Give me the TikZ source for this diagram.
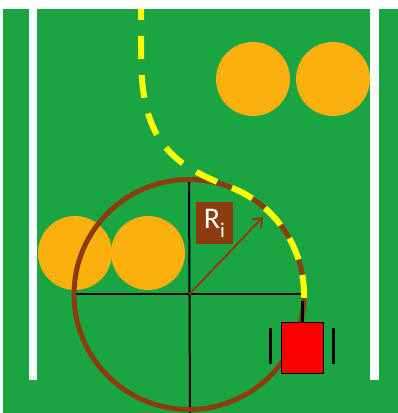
\documentclass[tikz,border=0pt]{standalone}
\usepackage{fontspec}
\setmainfont{Carlito}
\usetikzlibrary{arrows.meta,calc}
\definecolor{field}{RGB}{27,164,66}
\definecolor{ball}{RGB}{252,176,13}
\definecolor{brn}{RGB}{140,60,15}
\definecolor{robred}{RGB}{250,0,0}
\definecolor{yel}{RGB}{255,255,0}
\tikzset{
  ballc/.style={fill=ball, draw=none},
  stripe/.style={fill=white, draw=none},
  axis/.style={draw=black, line width=2pt},
  wheel/.style={draw=black, line width=3pt},
  pathy/.style={draw=yel, line width=6pt, dash pattern=on 23pt off 16pt, dash phase=12pt},
}
\begin{document}
\begin{tikzpicture}[x=1pt,y=1pt]
\useasboundingbox (0,0) rectangle (398,413);
\fill[white] (0,0) rectangle (398,413);
\fill[field] (3,0) rectangle (398,404);
\fill[stripe] (29,33) rectangle (37,404);
\fill[stripe] (370,33) rectangle (379,404);
% balls
\node[ballc, circle, minimum size=74pt, inner sep=0] (b1) at (253,334) {};
\node[ballc, circle, minimum size=74pt, inner sep=0] (b2) at (333,334) {};
\node[ballc, circle, minimum size=74pt, inner sep=0] (b3) at (75,160) {};
\node[ballc, circle, minimum size=74pt, inner sep=0] (b4) at (148,160) {};
% circle and axes
\coordinate (c) at (189,118.5);
\coordinate (vtop) at (189,233.5);
\coordinate (vbot) at (190,0);
\coordinate (hl) at (75,118.5);
\coordinate (hr) at (302,118.5);
\draw[axis] (vtop) -- (vbot);
\draw[axis] (hl) -- (hr);
\draw[brn, line width=5pt] (c) circle[radius=115];
\coordinate (tip) at (263,196);
\draw[brn, line width=2pt, -{Straight Barb[length=8pt,width=13pt]}] (c) -- (tip);
\node[fill=brn, text=white, minimum width=37pt, minimum height=42pt, inner sep=0, font=\fontsize{30}{30}\selectfont] (lbl) at (214.5,190) {R\raisebox{-0.3em}{\fontsize{21}{21}\selectfont i}};
% robot
\node[fill=robred, draw=black, line width=0.8pt, minimum width=42pt, minimum height=51pt, inner sep=0] (robot) at (302,65.5) {};
\coordinate (w1a) at (270,85); \coordinate (w1b) at (270,49);
\coordinate (w2a) at (333,85); \coordinate (w2b) at (333,49);
\draw[wheel] (w1a) -- (w1b);
\draw[wheel] (w2a) -- (w2b);
\coordinate (stub) at (302,112);
% yellow path
\coordinate (ys) at (141,404);
\coordinate (yj) at ($(c)+(69:115)$);
\draw[pathy] (ys) -- (141,358) .. controls (141,270) and (174,247.5) .. (yj) arc[start angle=69, end angle=-3, radius=115];
\draw[line width=3pt] (robot.north) -- (stub);
\end{tikzpicture}
\end{document}
